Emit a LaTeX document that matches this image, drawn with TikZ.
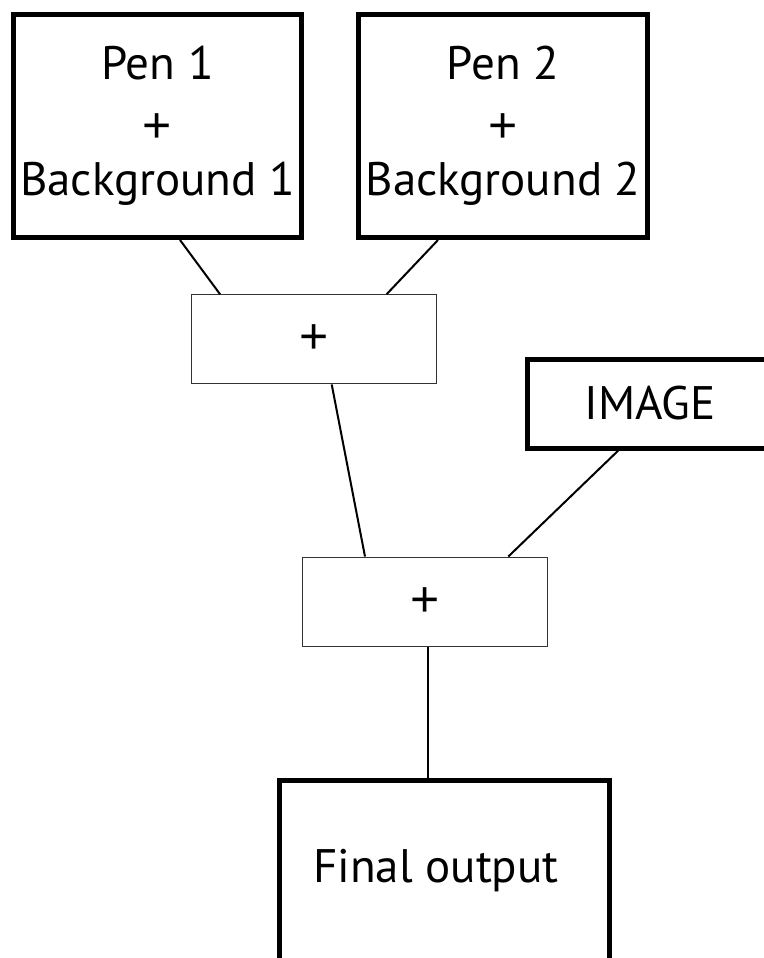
\documentclass[tikz,border=0pt]{standalone}
\usepackage{fontspec}
\setmainfont{PT Sans}
\newfontfamily\plusfont{Liberation Sans}
\newcommand{\bigplus}{{\plusfont\fontsize{50}{58}\selectfont +}}
\newcommand{\midplus}{\raisebox{-5pt}{\bigplus}}
\begin{document}
\begin{tikzpicture}[x=1pt,y=-1pt,
  thickbox/.style={draw=black,line width=5pt,inner sep=0pt,align=center,
    font=\fontsize{47}{58}\selectfont},
  thinbox/.style={draw=black!80,line width=1.3pt,inner sep=0pt,align=center,
    font=\fontsize{47}{58}\selectfont,fill=white},
  conn/.style={draw=black,line width=2pt}]
\useasboundingbox (0,0) rectangle (763,958);
\node[thickbox,minimum width=288pt,minimum height=223pt] (b1) at (157.5,126) {Pen 1\\\midplus\\Background 1};
\node[thickbox,minimum width=289pt,minimum height=223pt] (b2) at (503,126) {Pen 2\\\midplus\\Background 2};
\node[thinbox,minimum width=245pt,minimum height=89pt] (p1) at (313.7,339.3) {\bigplus};
\node[thickbox,minimum width=245pt,minimum height=89pt] (img) at (650,403.5) {IMAGE};
\node[thinbox,minimum width=245pt,minimum height=89pt] (p2) at (425,601.7) {\bigplus};
\node[thickbox,minimum width=330pt,minimum height=182pt] (fin) at (444,871) {Final output\hspace*{16pt}};
\draw[conn] ([xshift=22.5pt]b1.south) -- ([xshift=-93.7pt]p1.north);
\draw[conn] ([xshift=-65pt]b2.south) -- ([xshift=73pt]p1.north);
\draw[conn] ([xshift=18pt]p1.south) -- ([xshift=-60pt]p2.north);
\draw[conn] ([xshift=-31.7pt]img.south) -- ([xshift=83.3pt]p2.north);
\draw[conn] ([xshift=2.7pt]p2.south) -- ([xshift=-16.3pt]fin.north);
\end{tikzpicture}
\end{document}
